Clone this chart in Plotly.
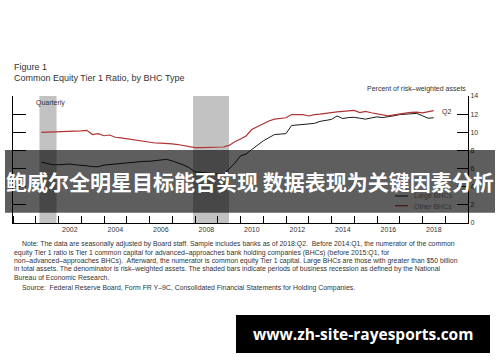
import plotly.graph_objects as go

# ---------------- data ----------------
years = list(range(2001, 2019))
quarter_ends = ["03-31", "06-30", "09-30", "12-31"]
dates = [f"{y}-{q}" for y in years for q in quarter_ends]
dates = dates[:70]  # 2001:Q1 .. 2018:Q2

large_bhcs = [6.72, 6.55, 6.42, 6.42, 6.45, 6.50, 6.42, 6.40, 6.30, 6.22,
              6.20, 6.38, 6.45, 6.52, 6.58, 6.65, 6.72, 6.78, 6.80, 6.80,
              6.88, 6.95, 7.02, 6.85, 6.65, 6.40, 6.10, 5.62, 5.58, 5.52,
              5.48, 5.42, 5.32, 5.95, 6.60, 7.40, 7.60, 8.10, 8.60, 9.05,
              9.40, 9.75, 9.80, 9.85, 10.75, 10.80, 10.90, 10.95, 10.98, 11.20,
              11.33, 11.42, 11.80, 11.52, 11.62, 11.65, 11.55, 11.45, 11.58, 11.70,
              11.62, 11.70, 11.82, 11.95, 12.00, 12.05, 12.08, 11.82, 11.55, 11.60]

other_bhcs = [9.98, 10.00, 10.05, 10.03, 10.10, 10.15, 10.12, 10.15, 10.22, 9.75,
              9.85, 9.62, 9.70, 9.45, 9.38, 9.28, 9.15, 9.05, 8.98, 8.88,
              8.82, 8.80, 8.78, 8.72, 8.65, 8.55, 8.42, 8.30, 8.32, 8.35,
              8.34, 8.35, 8.38, 8.55, 8.95, 9.25, 9.60, 10.30, 10.60, 10.90,
              11.25, 11.45, 11.55, 11.60, 11.95, 11.98, 11.95, 11.80, 11.95, 12.00,
              12.10, 12.15, 12.25, 12.30, 12.40, 12.42, 12.18, 12.30, 12.15, 12.02,
              11.88, 11.80, 11.92, 12.05, 12.12, 12.20, 12.22, 12.15, 12.28, 12.38]

recessions = [("2001-03-01", "2001-11-30"), ("2007-12-01", "2009-06-30")]

label_years = list(range(2002, 2019, 2))
tick_years = list(range(2000, 2021))
y_ticks = [0, 2, 4, 6, 8, 10, 12, 14]

note_lines = [
    "Note: The data are seasonally adjusted by Board staff. Sample includes banks as of 2018:Q2.  Before 2014:Q1, the numerator of the common",
    "equity Tier 1 ratio is Tier 1 common capital for advanced\u2013approaches bank holding companies (BHCs) (before 2015:Q1, for",
    "non\u2013advanced\u2013approaches BHCs).  Afterward, the numerator is common equity Tier 1 capital. Large BHCs are those with greater than $50 billion",
    "in total assets. The denominator is risk\u2013weighted assets. The shaded bars indicate periods of business recession as defined by the National",
    "Bureau of Economic Research.",
    "Source:  Federal Reserve Board, Form FR Y\u20139C, Consolidated Financial Statements for Holding Companies.",
]

# ---------------- layout helpers ----------------
W, H = 500, 362
L, R, T, B = 13, 32, 96, 139
PW = W - L - R
PH = H - T - B


def px(x):
    return (x - L) / PW


def py(y):
    return (H - B - y) / PH


FONT = "Liberation Sans, Arial, sans-serif"
TXT = "#333333"

fig = go.Figure()
fig.add_trace(go.Scatter(x=dates, y=large_bhcs, mode="lines", name="Large BHCs",
                         line=dict(color="#1a1a1a", width=1), yaxis="y"))
fig.add_trace(go.Scatter(x=dates, y=other_bhcs, mode="lines", name="Other BHCs",
                         line=dict(color="#b03434", width=1.2), yaxis="y2"))

shapes = []
for a, b in recessions:
    shapes.append(dict(type="rect", xref="x", yref="paper", x0=a, x1=b, y0=0, y1=1,
                       fillcolor="#c2c2c2", line=dict(width=0), layer="below"))

# legend keys
shapes.append(dict(type="line", xref="paper", yref="paper", x0=px(395), x1=px(408),
                   y0=py(196), y1=py(196), line=dict(color="#1a1a1a", width=1)))
shapes.append(dict(type="line", xref="paper", yref="paper", x0=px(395), x1=px(408),
                   y0=py(205.7), y1=py(205.7), line=dict(color="#b03434", width=1.2)))

# banner
shapes.append(dict(type="rect", xref="paper", yref="paper", x0=px(5), x1=px(495),
                   y0=py(212.7), y1=py(150), fillcolor="rgba(0,0,0,0.63)",
                   line=dict(width=0), layer="above"))
# watermark box
shapes.append(dict(type="rect", xref="paper", yref="paper", x0=px(236), x1=px(490),
                   y0=py(353), y1=py(315), fillcolor="black",
                   line=dict(width=0), layer="above"))

ann = []


def add_text(text, x, y, size, xanchor="left", color=TXT, family=FONT):
    ann.append(dict(text=text, x=px(x), y=py(y), xref="paper", yref="paper",
                    xanchor=xanchor, yanchor="middle", showarrow=False,
                    font=dict(size=size, color=color, family=family)))


add_text("Figure 1", 12, 67, 9)
add_text("Common Equity Tier 1 Ratio, by BHC Type", 12, 78, 9)
add_text("Percent of risk\u2013weighted assets", 468, 89.3, 7, xanchor="right")
add_text("Quarterly", 34, 103, 7)
add_text("Q2", 440, 111.7, 7)
add_text("Large BHCs", 412, 196, 7)
add_text("Other BHCs", 412, 206, 7)

note_y = [244.3, 252.7, 261.0, 269.3, 277.8, 288.3]
for i, (line, yy) in enumerate(zip(note_lines, note_y)):
    xx = 20 if i in (0, 5) else 12
    add_text(line, xx, yy, 6.9)

ann.append(dict(text="<b>鲍威尔全明星目标能否实现 数据表现为关键因素分析</b>",
                x=px(250), y=py(181), xref="paper", yref="paper",
                xanchor="center", yanchor="middle", showarrow=False,
                font=dict(size=21, color="white", family="Noto Sans CJK SC")))
ann.append(dict(text="<b>www.zh-site-rayesports.com</b>",
                x=px(363), y=py(334), xref="paper", yref="paper",
                xanchor="center", yanchor="middle", showarrow=False,
                font=dict(size=15.5, color="white", family="Open Sans, sans-serif")))

fig.update_layout(
    width=W, height=H, margin=dict(l=L, r=R, t=T, b=B, pad=0),
    paper_bgcolor="white", plot_bgcolor="white", showlegend=False,
    shapes=shapes, annotations=ann,
    xaxis=dict(type="date", range=["2000-01-01", "2020-01-01"],
               showline=True, linecolor="black", linewidth=1,
               tickvals=[f"{y}-07-02" for y in label_years],
               ticktext=[str(y) for y in label_years],
               ticks="", tickfont=dict(size=7, color=TXT, family=FONT),
               showgrid=False, zeroline=False,
               minor=dict(tickvals=[f"{y}-01-01" for y in tick_years], ticks="inside",
                          ticklen=7, tickcolor="black", tickwidth=1, showgrid=False)),
    yaxis=dict(range=[0, 14], showline=True, linecolor="black", linewidth=1,
               tickvals=y_ticks, ticks="inside", ticklen=13, tickcolor="black",
               showticklabels=False, showgrid=False, zeroline=False),
    yaxis2=dict(range=[0, 14], overlaying="y", side="right", showline=True,
                linecolor="black", linewidth=1, tickvals=y_ticks, ticks="inside",
                ticklen=11, tickcolor="black",
                tickfont=dict(size=7, color=TXT, family=FONT),
                showgrid=False, zeroline=False),
)

fig.write_html("out.html")
